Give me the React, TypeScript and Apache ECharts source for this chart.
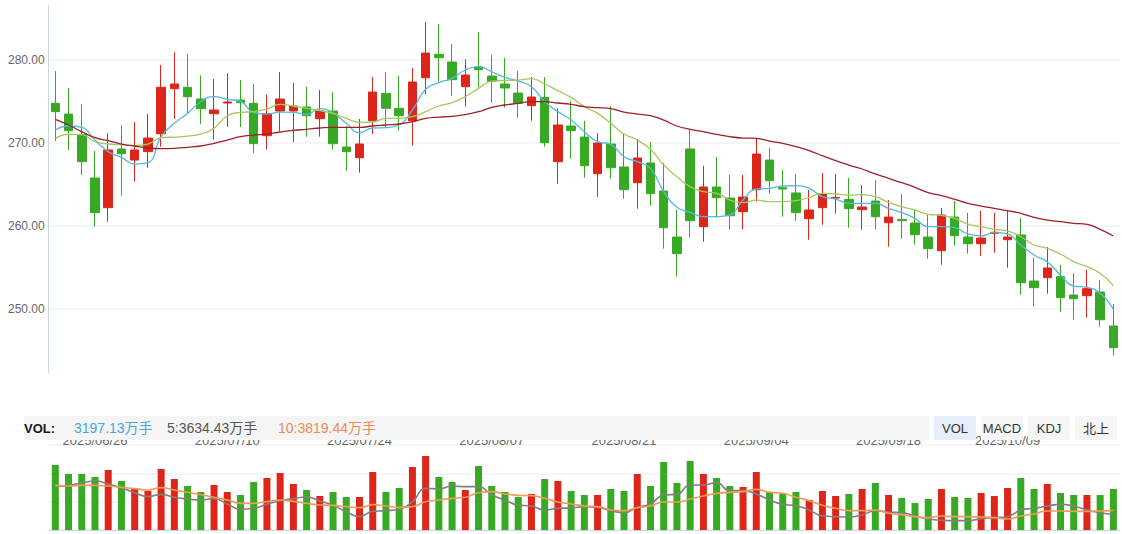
import React, { useEffect, useRef } from 'react';
import * as echarts from 'echarts';

const DATES = [
  '2025/06/23','2025/06/24','2025/06/25','2025/06/26','2025/06/27','2025/06/30',
  '2025/07/01','2025/07/02','2025/07/03','2025/07/04','2025/07/07','2025/07/08','2025/07/09','2025/07/10','2025/07/11',
  '2025/07/14','2025/07/15','2025/07/16','2025/07/17','2025/07/18','2025/07/21','2025/07/22','2025/07/23','2025/07/24','2025/07/25',
  '2025/07/28','2025/07/29','2025/07/30','2025/07/31',
  '2025/08/01','2025/08/04','2025/08/05','2025/08/06','2025/08/07','2025/08/08','2025/08/11','2025/08/12','2025/08/13','2025/08/14','2025/08/15',
  '2025/08/18','2025/08/19','2025/08/20','2025/08/21','2025/08/22','2025/08/25','2025/08/26','2025/08/27','2025/08/28','2025/08/29',
  '2025/09/01','2025/09/02','2025/09/03','2025/09/04','2025/09/05','2025/09/08','2025/09/09','2025/09/10','2025/09/11','2025/09/12',
  '2025/09/15','2025/09/16','2025/09/17','2025/09/18','2025/09/19','2025/09/22','2025/09/23','2025/09/24','2025/09/25','2025/09/26',
  '2025/09/29','2025/09/30',
  '2025/10/09','2025/10/10','2025/10/13','2025/10/14','2025/10/15','2025/10/16','2025/10/17','2025/10/20','2025/10/21',
];

const TICK_DATES = ['2025/06/26','2025/07/10','2025/07/24','2025/08/07','2025/08/21','2025/09/04','2025/09/18','2025/10/09'];

const OPEN = [
  274.78,273.49,271.00,265.78,262.21,269.28,267.95,268.96,271.12,276.55,276.71,275.30,273.53,274.82,275.18,274.78,270.88,273.86,273.86,274.34,272.93,273.86,269.52,268.23,272.69,
  275.98,274.18,272.69,277.87,280.68,279.76,276.79,279.16,278.07,277.11,276.02,274.50,275.50,267.75,272.05,270.72,266.31,269.88,267.11,265.22,267.59,264.22,258.67,269.28,259.92,264.70,263.37,261.73,
  264.38,267.95,264.62,263.98,260.88,262.21,263.37,263.21,261.97,263.01,260.40,260.80,260.36,258.67,257.03,261.08,258.67,257.87,259.12,258.35,258.92,253.37,253.78,253.90,251.69,251.61,252.05,247.95,
];
const CLOSE = [
  273.78,271.49,267.75,261.61,269.16,268.71,269.16,270.60,276.71,277.11,275.58,274.14,273.98,274.94,274.86,269.92,273.53,275.30,274.46,273.29,273.86,269.92,268.96,269.88,276.14,
  274.18,273.29,277.35,280.84,280.28,277.63,278.19,278.84,277.43,276.63,274.78,275.54,270.04,272.17,271.49,267.27,270.00,267.03,264.38,268.19,263.90,259.80,256.67,260.64,264.70,263.41,261.24,263.49,
  268.67,265.46,264.46,261.61,261.93,263.90,263.45,262.09,262.29,261.12,261.08,260.64,258.96,257.27,261.33,258.84,257.87,258.55,259.24,258.67,253.17,252.57,254.94,251.37,251.24,252.45,248.71,245.34,
];
const LOW = [
  270.24,269.16,266.14,259.92,260.52,263.65,265.34,267.03,269.56,272.89,273.49,272.29,270.40,271.93,271.93,268.80,269.20,271.45,270.12,270.76,270.76,269.20,266.67,266.43,271.12,
  271.85,271.49,269.68,275.90,277.39,275.70,274.38,276.71,274.86,274.26,273.05,272.69,269.56,265.10,268.11,265.82,263.53,265.70,263.29,262.09,262.45,257.27,253.90,258.59,258.11,261.00,259.56,259.56,
  262.93,263.90,261.12,260.64,258.35,260.16,261.49,259.80,259.56,259.56,257.51,258.47,257.75,256.06,255.34,257.63,256.67,256.43,256.79,254.98,251.73,250.28,251.85,249.68,248.71,248.96,247.87,244.38,
];
const HIGH = [
  278.67,276.63,274.66,269.04,271.20,272.17,272.53,273.49,279.40,280.92,280.72,278.15,277.71,278.43,277.59,277.11,275.86,278.55,277.23,276.75,276.39,276.14,272.05,272.89,277.95,
  278.55,278.07,279.04,284.58,284.34,281.93,280.08,283.37,280.60,280.24,278.67,277.95,277.95,274.18,275.06,272.65,271.20,274.46,271.08,270.48,270.12,267.59,261.97,271.69,267.27,268.35,266.18,266.18,
  270.56,269.40,266.75,266.27,264.34,266.39,266.27,265.78,264.94,265.54,263.13,263.86,262.05,261.33,262.17,263.01,261.57,261.81,261.57,261.85,260.96,256.18,257.47,255.30,254.34,254.74,253.49,250.60,
];

const MA5 = [
  271.57,272.05,271.89,270.36,268.96,268.27,267.47,267.63,270.76,272.37,273.57,274.98,275.58,275.26,275.02,273.69,273.49,273.73,273.69,273.45,274.14,273.65,272.37,271.24,271.81,
  271.85,272.17,273.98,276.47,277.27,277.79,278.80,279.20,278.59,277.91,277.47,276.79,274.98,273.78,272.77,271.37,270.16,269.84,268.35,267.75,266.95,264.14,262.25,261.65,261.12,261.12,261.33,263.13,
  264.46,264.54,264.82,264.86,264.54,263.53,263.25,262.73,262.73,262.73,262.13,261.61,260.92,259.92,259.92,259.80,259.04,258.80,259.24,259.04,257.71,256.51,255.70,254.10,252.77,252.61,251.89,249.96,
];
const MA10 = [
  270.56,271.04,271.00,270.16,269.88,269.80,269.72,269.88,270.64,270.72,270.84,271.08,271.77,273.29,273.69,273.78,274.10,274.66,274.46,274.18,273.90,273.57,272.97,272.49,272.53,
  272.97,272.97,273.17,273.78,274.46,274.86,275.58,276.59,277.47,277.55,277.59,277.75,277.11,276.31,275.50,274.38,273.57,272.37,271.08,270.36,269.24,267.35,265.94,264.74,264.14,263.94,263.13,262.81,
  263.13,262.93,262.93,263.05,263.45,263.94,263.86,263.73,263.78,263.53,262.85,262.33,261.93,261.41,261.29,260.92,260.24,259.92,259.60,259.40,258.71,257.71,257.31,256.63,255.70,255.10,254.30,252.81,
];
const MA30 = [
  272.85,272.17,271.37,270.64,270.28,269.88,269.64,269.40,269.32,269.36,269.48,269.64,269.96,270.36,270.76,270.96,271.08,271.33,271.53,271.65,271.81,271.89,271.89,271.89,272.05,
  272.17,272.29,272.57,272.97,273.13,273.21,273.41,273.78,274.30,274.58,274.78,274.98,274.98,274.82,274.66,274.38,274.26,274.14,273.73,273.49,273.29,272.77,272.05,271.65,271.37,271.04,270.76,270.60,
  270.56,270.24,269.96,269.56,269.08,268.47,267.87,267.35,266.87,266.27,265.74,265.22,264.66,264.02,263.65,263.21,262.73,262.41,262.13,261.85,261.53,261.04,260.72,260.52,260.32,260.20,259.60,258.80,
];

// volume, 万手
const VOLUME = [
  5070,4368,4368,4134,4680,3822,3276,3042,4758,3978,3432,2964,3510,2964,2730,3744,4056,4446,3588,3120,2652,2964,2574,2574,4524,2964,3276,
  4914,5772,4134,3744,3120,4992,3432,2964,2574,2808,3978,3822,3042,2730,2730,3198,3042,4368,3432,5304,3666,5382,4368,4056,3432,3354,4524,
  2964,2886,2964,2340,3042,2652,2808,3198,3666,2730,2496,2106,2418,3198,2574,2496,2886,2652,3276,4056,3198,3588,2886,2730,2730,2730,3197,
];
const VMA5 = [
  3380,3484,3666,3822,3588,3276,2912,2600,2782,2548,2418,2340,2444,2028,1612,1690,2002,2288,2444,2574,2262,1924,1430,1040,1456,1508,1638,
  2200,3250,3198,3432,3380,3380,2730,2340,1950,1872,1560,1690,1716,1820,1768,1508,1352,1768,2028,2730,2782,3510,3510,3692,3068,3068,2808,
  2340,2002,1898,1560,1092,1040,1014,1170,1508,1404,1352,1092,858,754,728,728,884,962,1040,1560,1690,1872,2002,1872,1560,1352,1196,
];
const VMA10 = [
  3484,3432,3484,3484,3432,3328,3224,3120,3302,3120,2938,2756,2548,2340,2080,2080,2210,2340,2236,2080,1950,1924,1820,1742,1976,1872,1768,
  1820,2210,2340,2470,2548,2912,2990,2808,2704,2678,2470,2184,2028,1872,1820,1560,1508,1742,1872,2184,2184,2418,2652,2860,2938,2990,3172,
  2938,2860,2548,2288,1924,1690,1508,1508,1560,1300,1196,1040,962,1092,1040,1040,1014,962,858,1092,1248,1482,1482,1456,1456,1482,1534,
];

const VOL_LEGEND = ['3197.13万手', '5:3634.43万手', '10:3819.44万手'];
const TABS = ['VOL', 'MACD', 'KDJ', '北上'];

const FONT = "'Liberation Sans', Arial, 'Noto Sans CJK SC', sans-serif";
const RED = '#dd2519';
const GREEN = '#38a923';
const SPLIT = '#f0f2f6';
const AXIS = '#c8d6ea';

export default function App() {
  const ref = useRef<HTMLDivElement>(null);

  useEffect(() => {
    if (!ref.current) return;
    const chart = echarts.init(ref.current, undefined, { renderer: 'svg' });

    const candleData = DATES.map((_, i) => [OPEN[i], CLOSE[i], LOW[i], HIGH[i]]);
    const volData = VOLUME.map((v, i) => ({
      value: v,
      itemStyle: { color: CLOSE[i] >= OPEN[i] ? RED : GREEN },
    }));

    const legendColors = ['#46a7da', '#555555', '#ef8a55'];
    const legendX = [74, 167, 278];
    const tabX = [934, 981, 1028, 1075];

    const graphics: any[] = [
      { type: 'rect', z: 100, shape: { x: 24, y: 416, width: 905, height: 24 }, style: { fill: '#f5f5f5' } },
      { type: 'text', z: 101, x: 24, y: 428, style: { text: 'VOL:', fill: '#1a1a1a', font: `bold 13px ${FONT}`, align: 'left', verticalAlign: 'middle' } },
      ...VOL_LEGEND.map((t, i) => ({
        type: 'text', z: 101, x: legendX[i], y: 428,
        style: { text: t, fill: legendColors[i], font: `14px ${FONT}`, align: 'left', verticalAlign: 'middle' },
      })),
      ...TABS.map((t, i) => ({
        type: 'rect', z: 100, shape: { x: tabX[i], y: 416, width: 42, height: 24 },
        style: { fill: i === 0 ? '#e6eef9' : '#f5f5f5' },
      })),
      ...TABS.map((t, i) => ({
        type: 'text', z: 101, x: tabX[i] + 21, y: 428,
        style: { text: t, fill: '#333', font: `13px ${FONT}`, align: 'center', verticalAlign: 'middle' },
      })),
    ];

    const lineSeries = (name: string, data: number[], color: string, xi: number, yi: number, w: number) => ({
      name, type: 'line', data, xAxisIndex: xi, yAxisIndex: yi, smooth: true, symbol: 'none',
      lineStyle: { color, width: w }, silent: true,
    });

    chart.setOption({
      animation: false,
      backgroundColor: '#ffffff',
      grid: [
        { left: 48.7, right: 2, top: 5, height: 368 },
        { left: 48.7, right: 2, top: 445, height: 85 },
      ],
      xAxis: [
        {
          type: 'category', gridIndex: 0, data: DATES, boundaryGap: true,
          axisLine: { show: false }, axisTick: { show: false }, axisLabel: { show: false }, splitLine: { show: false },
        },
        {
          type: 'category', gridIndex: 1, data: DATES, boundaryGap: true, position: 'bottom',
          axisLine: { show: true, lineStyle: { color: AXIS, width: 1 } }, axisTick: { show: false }, axisLabel: { show: false }, splitLine: { show: false },
        },
        {
          type: 'category', gridIndex: 1, data: DATES, boundaryGap: true, position: 'top',
          axisLine: { show: false }, axisTick: { show: false }, splitLine: { show: false },
          axisLabel: {
            show: true, margin: -2, color: '#666', fontSize: 13, fontFamily: FONT,
            interval: (_i: number, v: string) => TICK_DATES.includes(v),
          },
        },
      ],
      yAxis: [
        {
          type: 'value', gridIndex: 0, min: 242.29, max: 286.63, splitNumber: 4, position: 'left',
          axisLine: { show: true, lineStyle: { color: AXIS, width: 1 } }, axisTick: { show: false },
          axisLabel: {
            margin: 4, color: '#666', fontSize: 12, fontFamily: FONT, showMinLabel: false, showMaxLabel: false,
            formatter: (v: number) => (Math.abs(v / 10 - Math.round(v / 10)) < 1e-6 ? v.toFixed(2) : ''),
          },
          splitLine: { show: true, showMinLine: false, showMaxLine: false, lineStyle: { color: SPLIT, width: 1.5 } },
        },
        {
          type: 'value', gridIndex: 1, min: 0, max: 6630, interval: 2210,
          axisLine: { show: false }, axisTick: { show: false }, axisLabel: { show: false },
          splitLine: { show: true, lineStyle: { color: SPLIT, width: 1.5 } },
        },
      ],
      series: [
        {
          name: 'K', type: 'candlestick', xAxisIndex: 0, yAxisIndex: 0, data: candleData, barWidth: 9,
          itemStyle: { color: RED, color0: GREEN, borderColor: RED, borderColor0: GREEN, borderWidth: 1 },
        },
        lineSeries('MA5', MA5, '#55b8de', 0, 0, 1.3),
        lineSeries('MA10', MA10, '#a6c75e', 0, 0, 1.3),
        lineSeries('MA30', MA30, '#a11e2b', 0, 0, 1.3),
        { name: 'VOL', type: 'bar', xAxisIndex: 1, yAxisIndex: 1, data: volData, barWidth: 7 },
        lineSeries('VMA5', VMA5, '#808080', 1, 1, 1.6),
        lineSeries('VMA10', VMA10, '#f29a58', 1, 1, 1.6),
      ],
      graphic: graphics,
    });

    return () => chart.dispose();
  }, []);

  return <div ref={ref} style={{ position: 'absolute', left: 0, top: 0, width: 1122, height: 534 }} />;
}
